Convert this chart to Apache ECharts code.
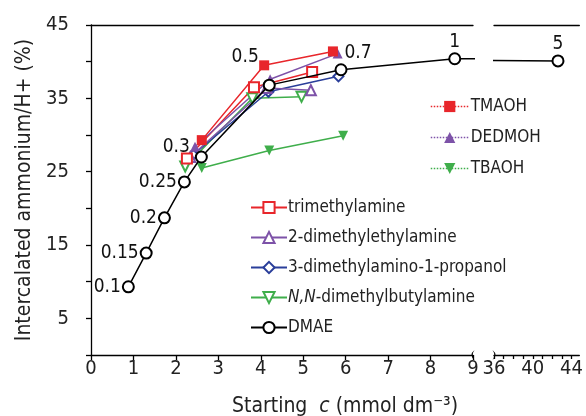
<!DOCTYPE html>
<html>
<head>
<meta charset="utf-8">
<script src="https://cdn.jsdelivr.net/npm/echarts@6/dist/echarts.min.js"></script>
<style>
  html, body { margin: 0; background: #fff; }
  #chart { width: 586px; height: 416px; }
</style>
</head>
<body>
<div id="chart"></div>
<script>
const FONT = '"DejaVu Sans Condensed", "Liberation Sans Narrow", sans-serif';

// DMAE: starting c (mmol dm-3), intercalated (%), and the ratio printed next to each point
const dmaeC = [0.88, 1.30, 1.73, 2.20, 2.60, 4.20, 5.89, 8.57, 42.6];
const dmaeY = [9.3, 13.9, 18.7, 23.6, 27.0, 36.8, 38.9, 40.4, 40.1];
const dmaeRatio = ['0.1', '0.15', '0.2', '0.25', '0.3', '0.5', '0.7', '1', '5'];

// hydroxides
const tmaohC = [2.61, 4.08, 5.70];
const tmaohY = [29.3, 39.5, 41.4];
const dedmohC = [2.45, 4.22, 5.81];
const dedmohY = [28.4, 37.6, 41.1];
const tbaohC = [2.61, 4.20, 5.94];
const tbaohY = [25.5, 27.9, 29.9];

// amines
const tmaC = [2.26, 3.84, 5.21];
const tmaY = [26.8, 36.5, 38.6];
const dmeaC = [2.34, 4.14, 5.18];
const dmeaY = [27.0, 36.4, 36.1];
const dmapC = [2.41, 4.18, 5.83];
const dmapY = [27.3, 35.9, 38.0];
const dmbaC = [2.22, 3.80, 4.96];
const dmbaY = [25.7, 35.0, 35.2];

const rightTicks = [36, 37, 38, 39, 40, 41, 42, 43, 44];
const rightLabels = [36, 40, 44];

// where each ratio label sits relative to its circle
const ratioLabelPlace = [
  {position: 'left', distance: 1},
  {position: 'left', distance: 1},
  {position: 'left', distance: 1},
  {position: 'left', distance: 1},
  {position: 'left', distance: 1, offset: [-4, -10]},
  {position: 'left', distance: 1, offset: [-3, -28]},
  {position: 'right', distance: 1, offset: [-4, -17]},
  {position: 'top', distance: 1},
  {position: 'top', distance: 1}
];

const RED = '#e8262b';
const PURPLE = '#7d52a8';
const GREEN = '#3fae4b';
const BLUE = '#2a3e9a';

// small curved mark used where the x axis is broken
const BREAK_MARK = 'path://M0,0 Q5,6 10,0 Q5,3.5 0,0 Z';

const zip = (xs, ys) => xs.map((x, i) => [x, ys[i]]);

const chart = echarts.init(document.getElementById('chart'));

function lineSeries(name, xs, ys, color, symbol, rotate) {
  return {
    name: name,
    type: 'line',
    data: zip(xs, ys),
    symbol: symbol,
    symbolSize: 10,
    symbolRotate: rotate || 0,
    showAllSymbol: true,
    clip: true,
    lineStyle: {color: color, width: 1.5},
    itemStyle: {color: color, borderWidth: 1.5},
    emphasis: {disabled: true},
    animation: false
  };
}

const series = [
  lineSeries('N,N-dimethylbutylamine', dmbaC, dmbaY, GREEN, 'emptyTriangle', 180),
  lineSeries('3-dimethylamino-1-propanol', dmapC, dmapY, BLUE, 'emptyDiamond'),
  lineSeries('2-dimethylethylamine', dmeaC, dmeaY, PURPLE, 'emptyTriangle'),
  lineSeries('trimethylamine', tmaC, tmaY, RED, 'emptyRect'),
  lineSeries('TBAOH', tbaohC, tbaohY, GREEN, 'triangle', 180),
  lineSeries('DEDMOH', dedmohC, dedmohY, PURPLE, 'triangle'),
  lineSeries('TMAOH', tmaohC, tmaohY, RED, 'rect')
];

// DMAE in both panels of the broken axis
[0, 1].forEach((g) => {
  const s = lineSeries('DMAE', dmaeC, dmaeY, '#000', 'emptyCircle');
  s.symbolSize = 11;
  s.xAxisIndex = g * 2;
  s.yAxisIndex = g;
  s.z = 5;
  s.data = dmaeC.map((c, i) => ({
    value: [c, dmaeY[i]],
    label: Object.assign({
      show: true,
      formatter: dmaeRatio[i],
      color: '#111',
      fontFamily: FONT,
      fontSize: 19
    }, ratioLabelPlace[i])
  }));
  series.push(s);
});

const axisLineStyle = {color: '#000', width: 1.3};
const tickLabel = {color: '#222', fontFamily: FONT, fontSize: 20};

chart.setOption({
  backgroundColor: '#fff',
  animation: false,
  textStyle: {fontFamily: FONT},
  grid: [
    {left: 91, right: 113, top: 25, bottom: 61},
    {left: 494, right: 4, top: 25, bottom: 61}
  ],
  title: {
    text: '{n|Starting  }{i|c}{n| (mmol dm⁻³)}',
    left: 232,
    top: 396,
    padding: 0,
    textStyle: {
      fontWeight: 'normal',
      rich: {
        n: {fontFamily: FONT, fontSize: 21, color: '#222', fontWeight: 'normal'},
        i: {fontFamily: FONT, fontSize: 21, color: '#222', fontWeight: 'normal',
          fontStyle: 'italic'}
      }
    }
  },
  legend: [
    {
      data: ['TMAOH', 'DEDMOH', 'TBAOH'],
      orient: 'vertical',
      left: 430,
      top: 98,
      padding: 0,
      itemWidth: 38,
      itemHeight: 14,
      itemGap: 14,
      selectedMode: false,
      lineStyle: {type: 'dotted', width: 1.5},
      textStyle: {fontFamily: FONT, fontSize: 17, color: '#222', padding: [0, 0, 0, -3]}
    },
    {
      data: ['trimethylamine', '2-dimethylethylamine', '3-dimethylamino-1-propanol',
        'N,N-dimethylbutylamine', 'DMAE'],
      orient: 'vertical',
      left: 250,
      top: 199,
      padding: 0,
      itemWidth: 36,
      itemHeight: 14,
      itemGap: 13,
      selectedMode: false,
      formatter: (name) => name === 'N,N-dimethylbutylamine' ?
        '{i|N,N}-dimethylbutylamine' : name,
      textStyle: {
        fontFamily: FONT, fontSize: 17, color: '#222', padding: [0, 0, 0, -4],
        rich: {i: {fontFamily: FONT, fontSize: 17, color: '#222', fontStyle: 'italic'}}
      }
    }
  ],
  xAxis: [
    {
      gridIndex: 0, type: 'value', position: 'bottom',
      min: 0, max: 9, interval: 1,
      axisLine: {
        lineStyle: axisLineStyle,
        symbol: ['none', BREAK_MARK],
        symbolSize: [10, 5]
      },
      axisTick: {length: 5, lineStyle: axisLineStyle},
      axisLabel: Object.assign({margin: 4}, tickLabel),
      splitLine: {show: false}
    },
    {
      gridIndex: 0, type: 'value', position: 'top',
      min: 0, max: 9,
      axisLine: {lineStyle: axisLineStyle},
      axisTick: {show: false}, axisLabel: {show: false},
      splitLine: {show: false}
    },
    {
      gridIndex: 1, type: 'value', position: 'bottom',
      min: 36, max: 44.8,
      axisLine: {
        lineStyle: axisLineStyle,
        symbol: [BREAK_MARK, 'none'],
        symbolSize: [10, 5]
      },
      axisTick: {length: 4, lineStyle: axisLineStyle, customValues: rightTicks},
      axisLabel: Object.assign({margin: 4, customValues: rightLabels}, tickLabel),
      splitLine: {show: false}
    },
    {
      gridIndex: 1, type: 'value', position: 'top',
      min: 36, max: 44.8,
      axisLine: {lineStyle: axisLineStyle},
      axisTick: {show: false}, axisLabel: {show: false},
      splitLine: {show: false}
    }
  ],
  yAxis: [
    {
      gridIndex: 0, type: 'value',
      min: 0, max: 45, interval: 5,
      offset: 9,
      axisLine: {show: true, lineStyle: axisLineStyle},
      axisTick: {show: true, length: 5, lineStyle: axisLineStyle},
      axisLabel: Object.assign({
        margin: 13,
        formatter: (v) => (v % 10 === 5 ? String(v) : '')
      }, tickLabel),
      splitLine: {show: false},
      name: 'Intercalated ammonium/H+ (%)',
      nameLocation: 'middle',
      nameGap: 44,
      nameTextStyle: {fontFamily: FONT, fontSize: 21, color: '#222'}
    },
    {
      gridIndex: 1, type: 'value', min: 0, max: 45, show: false
    }
  ],
  series: series
});
</script>
</body>
</html>
